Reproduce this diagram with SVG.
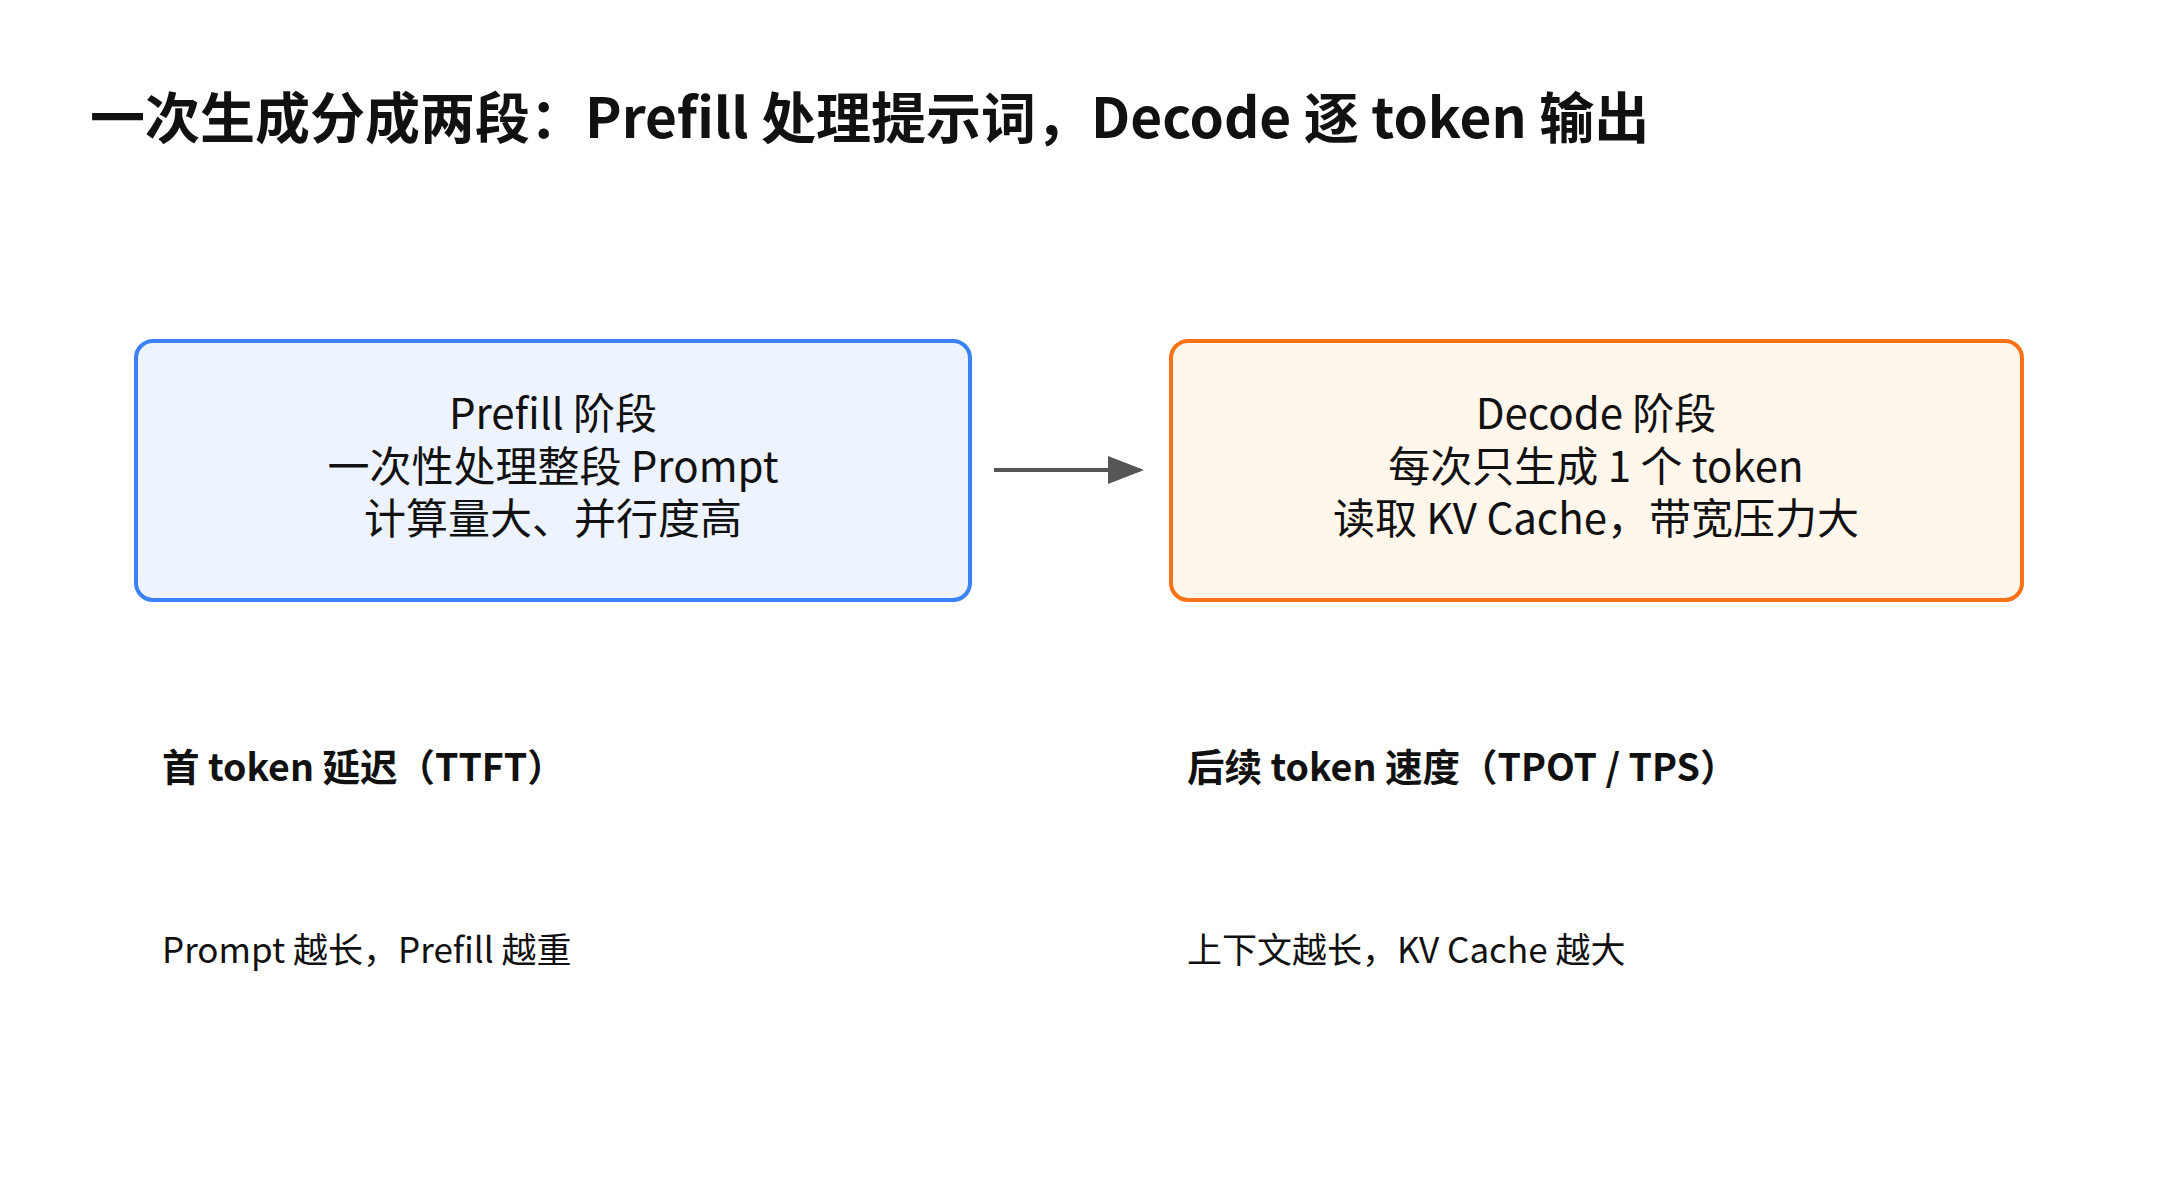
<svg xmlns="http://www.w3.org/2000/svg" width="2176" height="1186" viewBox="0 0 2176 1186">
<defs>
<style>
text{font-family:"Noto Sans CJK SC","Noto Sans",sans-serif;fill:#111}
.t{font-size:55px;font-weight:bold}
.n{font-size:42px;text-anchor:middle}
.h{font-size:37.5px;font-weight:bold}
.p{font-size:35px}
</style>
<marker id="ah" markerWidth="10" markerHeight="10" refX="8" refY="5" orient="auto" markerUnits="strokeWidth"><path d="M0,1.5 L9,5 L0,8.5 Z" fill="#555"/></marker>
</defs>
<rect width="2176" height="1186" fill="#fff"/>
<text class="t" x="90" y="138">一次生成分成两段：Prefill 处理提示词，Decode 逐 token 输出</text>
<g id="prefill">
<rect x="136" y="341" width="834" height="259" rx="17" fill="#EEF4FF" stroke="#3B82F6" stroke-width="4"/>
<text class="n" x="553" y="429">Prefill 阶段</text>
<text class="n" x="553" y="482">一次性处理整段 Prompt</text>
<text class="n" x="553" y="534">计算量大、并行度高</text>
</g>
<g id="decode">
<rect x="1171" y="341" width="851" height="259" rx="17" fill="#FFF6EC" stroke="#F97316" stroke-width="4"/>
<text class="n" x="1596" y="429">Decode 阶段</text>
<text class="n" x="1596" y="482">每次只生成 1 个 token</text>
<text class="n" x="1596" y="534">读取 KV Cache，带宽压力大</text>
</g>
<g id="connectors">
<line x1="994" y1="470" x2="1140" y2="470" stroke="#555" stroke-width="4" marker-end="url(#ah)"/>
</g>
<g id="notes">
<text class="h" x="162" y="781">首 token 延迟（TTFT）</text>
<text class="h" x="1187" y="781">后续 token 速度（TPOT / TPS）</text>
<text class="p" x="162" y="963">Prompt 越长，Prefill 越重</text>
<text class="p" x="1187" y="963">上下文越长，KV Cache 越大</text>
</g>
</svg>
